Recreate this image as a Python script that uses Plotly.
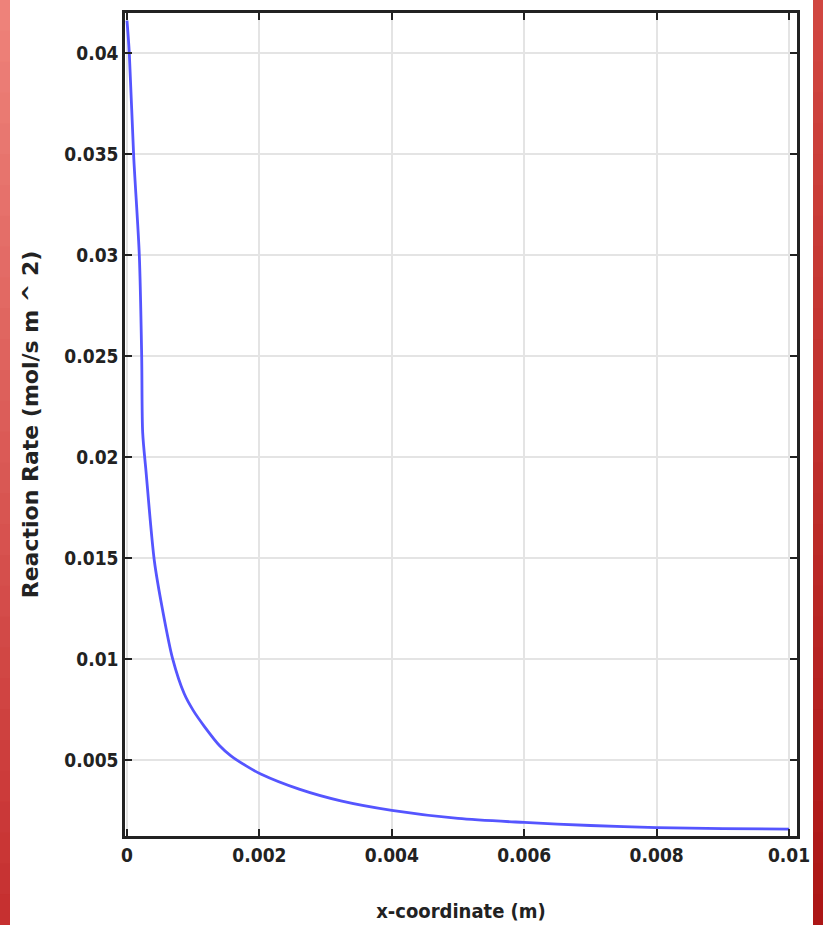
import plotly.graph_objects as go

# ---- data ----
x_coord = [0.0, 0.000035, 0.000101, 0.000186, 0.000222, 0.000237, 0.000287, 0.000413,
           0.00054, 0.00069, 0.000865, 0.001, 0.00117, 0.0014, 0.00157, 0.0018, 0.00202,
           0.0026, 0.00323, 0.004, 0.005, 0.006, 0.007, 0.008, 0.009, 0.01]
reaction_rate = [0.0416, 0.0400, 0.0349, 0.0300, 0.0250, 0.0212, 0.0193, 0.01486,
                 0.01238, 0.0100, 0.00827, 0.00745, 0.00665, 0.0057, 0.0052, 0.0047, 0.0043,
                 0.00355, 0.00297, 0.0025, 0.0021, 0.0019, 0.00175, 0.00164, 0.0016, 0.00157]

x_ticks = [0, 0.002, 0.004, 0.006, 0.008, 0.01]
x_ticktext = ["0", "0.002", "0.004", "0.006", "0.008", "0.01"]
y_ticks = [0.005, 0.01, 0.015, 0.02, 0.025, 0.03, 0.035, 0.04]
y_ticktext = ["0.005", "0.01", "0.015", "0.02", "0.025", "0.03", "0.035", "0.04"]

W, H = 823, 925
ML, MR, MT, MB = 125, 26, 13, 89

tick_font = dict(family="DejaVu Sans Condensed, DejaVu Sans, sans-serif", size=19,
                 color="#222222", weight="bold")

fig = go.Figure()
fig.add_trace(go.Scatter(x=x_coord, y=reaction_rate, mode="lines",
                         line=dict(color="rgb(85,85,255)", width=2.8, shape="spline", smoothing=0.8),
                         showlegend=False, hoverinfo="skip"))

# decorative red side strips (gradient approximated by bands)
pw = W - ML - MR
ph = H - MT - MB
shapes = []
n = 30
def lerp(a, b, t):
    return tuple(int(round(a[i] + (b[i] - a[i]) * t)) for i in range(3))
for i in range(n):
    top_px = i * H / n
    bot_px = (i + 1) * H / n + 1
    y1 = (H - MB - top_px) / ph
    y0 = (H - MB - bot_px) / ph
    t = i / (n - 1)
    cl = lerp((238, 130, 122), (198, 48, 48), t)
    cr = lerp((208, 70, 64), (172, 22, 22), t)
    shapes.append(dict(type="rect", xref="paper", yref="paper",
                       x0=(0 - ML) / pw, x1=(10 - ML) / pw, y0=y0, y1=y1,
                       fillcolor="rgb(%d,%d,%d)" % cl, line=dict(width=0), layer="above"))
    shapes.append(dict(type="rect", xref="paper", yref="paper",
                       x0=(813 - ML) / pw, x1=(W - ML) / pw, y0=y0, y1=y1,
                       fillcolor="rgb(%d,%d,%d)" % cr, line=dict(width=0), layer="above"))

fig.update_layout(
    width=W, height=H,
    margin=dict(l=ML, r=MR, t=MT, b=MB),
    paper_bgcolor="white", plot_bgcolor="white",
    shapes=shapes,
    xaxis=dict(range=[-0.00003, 0.01012], tickvals=x_ticks, ticktext=x_ticktext,
               showgrid=True, gridcolor="#e4e4e4", gridwidth=1.5, automargin=False,
               showline=True, linecolor="#222222", linewidth=2.5, mirror="ticks",
               ticks="inside", ticklen=7, tickwidth=2, tickcolor="#222222",
               tickfont=tick_font, zeroline=False,
               title=dict(text="x-coordinate (m)", standoff=40,
                          font=dict(family="DejaVu Sans Condensed, DejaVu Sans, sans-serif",
                                    size=20, color="#222222", weight="bold"))),
    yaxis=dict(range=[0.00123, 0.04198], tickvals=y_ticks, ticktext=y_ticktext,
               showgrid=True, gridcolor="#e4e4e4", gridwidth=2, automargin=False,
               showline=True, linecolor="#222222", linewidth=2.5, mirror="ticks",
               ticks="inside", ticklen=7, tickwidth=2, tickcolor="#222222",
               tickfont=tick_font, zeroline=False,
               title=dict(text="Reaction Rate (mol/s m ^ 2)", standoff=20,
                          font=dict(family="DejaVu Sans, sans-serif",
                                    size=22, color="#222222", weight="bold"))),
)

fig.write_html("out.html")
